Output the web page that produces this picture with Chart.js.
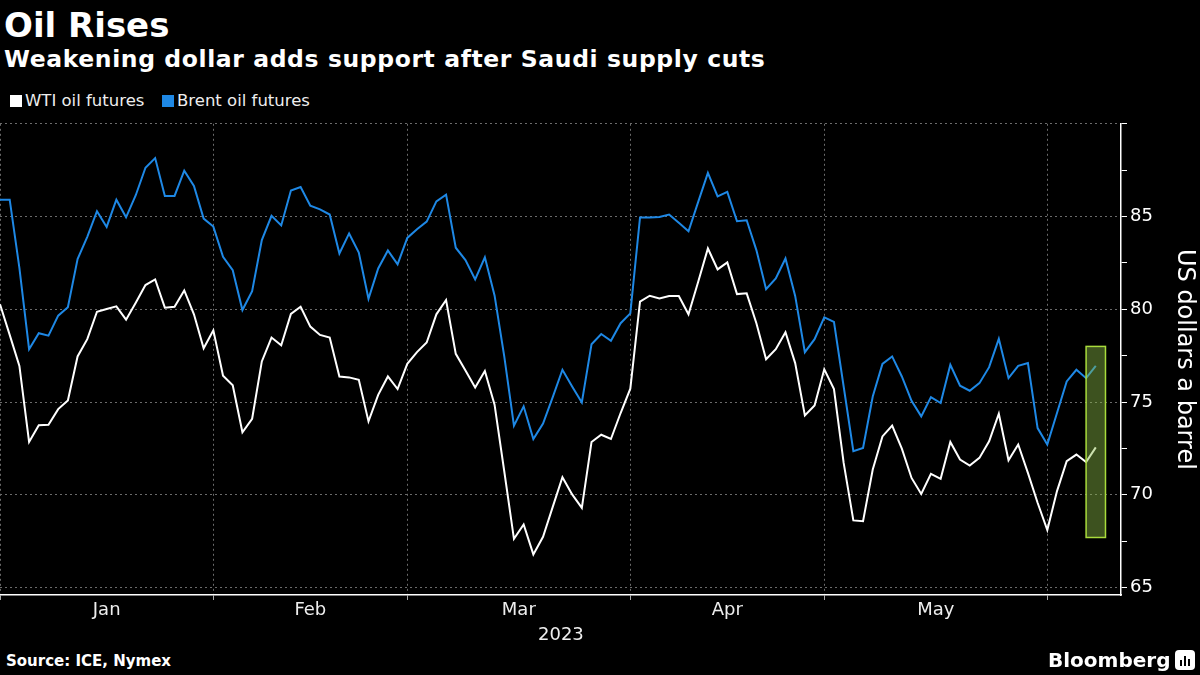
<!DOCTYPE html>
<html>
<head>
<meta charset="utf-8">
<script src="https://cdn.jsdelivr.net/npm/chart.js@4/dist/chart.umd.min.js"></script>
<style>
  html, body { margin: 0; padding: 0; background: #000; }
  body { width: 1200px; height: 675px; position: relative; overflow: hidden; font-family: "DejaVu Sans", sans-serif; color: #fff; }
  .abs { position: absolute; white-space: nowrap; line-height: 1; }
  #title { left: 4px; top: 8px; font-size: 34px; font-weight: bold; }
  #subtitle { left: 4px; top: 48px; font-size: 23.5px; font-weight: bold; letter-spacing: 0.6px; }
  .legend { top: 93px; font-size: 16.5px; color: #eee; }
  .swatch { display: inline-block; width: 12px; height: 12px; margin-right: 3px; vertical-align: -1px; }
  #year { left: 538px; top: 625px; font-size: 18px; color: #eee; }
  #source { left: 6px; top: 654px; font-size: 15px; font-weight: bold; }
  #brand { left: 1048px; top: 650px; font-size: 20px; font-weight: bold; }
  #brand .icon { display: inline-block; width: 20px; height: 20px; background: #fff; border-radius: 4px; margin-left: 5px; vertical-align: -3px; position: relative; }
  #brand .icon i { position: absolute; bottom: 4px; width: 2px; background: #000; }
  #wrap { position: absolute; left: 0; top: 110px; width: 1200px; height: 540px; }
</style>
</head>
<body>
<div class="abs" id="title">Oil Rises</div>
<div class="abs" id="subtitle">Weakening dollar adds support after Saudi supply cuts</div>
<div class="abs legend" style="left:10px"><span class="swatch" style="background:#fff"></span>WTI oil futures</div>
<div class="abs legend" style="left:162px"><span class="swatch" style="background:#1e88e5"></span>Brent oil futures</div>
<div id="wrap"><canvas id="chart"></canvas></div>
<div class="abs" id="year">2023</div>
<div class="abs" id="source">Source: ICE, Nymex</div>
<div class="abs" id="brand">Bloomberg<span class="icon"><i style="left:5px;height:6px"></i><i style="left:9px;height:10px"></i><i style="left:13px;height:7px"></i></span></div>
<script>
// trading-day series, Jan 2023 to early Jun 2023
const wti = [80.27, 78.62, 76.95, 72.85, 73.75, 73.78, 74.62, 75.09, 77.46, 78.39,
  79.87, 80.02, 80.16, 79.44, 80.36, 81.31, 81.61, 80.09, 80.14, 81.02,
  79.73, 77.90, 78.87, 76.42, 75.91, 73.37, 74.10, 77.19, 78.48, 78.06,
  79.75, 80.14, 79.07, 78.62, 78.48, 76.38, 76.33, 76.20, 73.96, 75.39,
  76.38, 75.70, 77.06, 77.69, 78.21, 79.73, 80.50, 77.60, 76.70, 75.79,
  76.68, 74.86, 71.27, 67.63, 68.40, 66.79, 67.74, 69.35, 70.95, 70.02,
  69.30, 72.85, 73.24, 73.01, 74.41, 75.72, 80.41, 80.73, 80.59, 80.72,
  80.72, 79.73, 81.49, 83.28, 82.15, 82.53, 80.82, 80.86, 79.25, 77.31,
  77.85, 78.76, 77.10, 74.28, 74.82, 76.77, 75.70, 71.72, 68.62, 68.58,
  71.36, 73.15, 73.73, 72.49, 70.91, 70.05, 71.13, 70.86, 72.85, 71.90,
  71.58, 71.99, 72.89, 74.37, 71.86, 72.71, 71.18, 69.57, 68.10, 70.20,
  71.81, 72.17, 71.77, 72.56];

const brent = [85.91, 85.91, 82.24, 77.85, 78.71, 78.58, 79.66, 80.11, 82.71, 83.91,
  85.29, 84.44, 85.91, 84.96, 86.15, 87.63, 88.15, 86.11, 86.11, 87.47,
  86.65, 84.89, 84.46, 82.83, 82.11, 79.96, 80.98, 83.73, 85.04, 84.52,
  86.40, 86.59, 85.59, 85.39, 85.11, 83.01, 84.09, 83.06, 80.57, 82.20,
  83.17, 82.42, 83.85, 84.32, 84.73, 85.82, 86.18, 83.32, 82.65, 81.61,
  82.80, 80.75, 77.46, 73.73, 74.77, 73.01, 73.84, 75.27, 76.74, 75.84,
  74.98, 78.12, 78.67, 78.30, 79.25, 79.78, 84.95, 84.95, 84.98, 85.11,
  84.66, 84.21, 85.79, 87.35, 86.09, 86.33, 84.75, 84.80, 83.19, 81.08,
  81.67, 82.74, 80.72, 77.69, 78.39, 79.57, 79.32, 75.84, 72.35, 72.53,
  75.30, 77.06, 77.46, 76.38, 75.07, 74.23, 75.27, 74.95, 77.01, 75.88,
  75.61, 76.02, 76.88, 78.41, 76.29, 76.95, 77.10, 73.60, 72.71, 74.41,
  76.11, 76.74, 76.29, 76.95];

const monthNames = ['Jan', 'Feb', 'Mar', 'Apr', 'May'];
const monthStarts = [0, 22, 42, 65, 85, 108];   // index of first trading day in each month
const yTicks = [65, 67.5, 70, 72.5, 75, 77.5, 80, 82.5, 85, 87.5, 90];

// highlighted last session
const hlFrom = 112, hlTo = 114, hlLow = 67.7, hlHigh = 78;

const GRID = '#6b6b6b';
const NONE = 'rgba(0,0,0,0)';

// month labels sit halfway between month boundaries
const xTicks = [];
const xLabels = {};
monthStarts.forEach((s, i) => {
    xTicks.push(s);
    if (i < monthNames.length) {
        const mid = (s + monthStarts[i + 1]) / 2;
        xTicks.push(mid);
        xLabels[mid] = monthNames[i];
    }
});
const isBoundary = v => monthStarts.indexOf(v) !== -1;

const highlightBox = {
    id: 'highlightBox',
    afterDatasetsDraw(chart) {
        const xs = chart.scales.x, ys = chart.scales.y, ctx = chart.ctx;
        const x0 = xs.getPixelForValue(hlFrom), x1 = xs.getPixelForValue(hlTo);
        const y0 = ys.getPixelForValue(hlHigh), y1 = ys.getPixelForValue(hlLow);
        ctx.save();
        ctx.fillStyle = 'rgba(140,186,70,0.44)';
        ctx.fillRect(x0, y0, x1 - x0, y1 - y0);
        ctx.strokeStyle = '#a9dc3c';
        ctx.lineWidth = 1.5;
        ctx.strokeRect(x0, y0, x1 - x0, y1 - y0);
        ctx.restore();
    }
};

new Chart(document.getElementById('chart'), {
    type: 'line',
    data: {
        datasets: [
            { label: 'WTI oil futures', data: wti.map((v, i) => ({ x: i, y: v })), borderColor: '#ffffff', borderWidth: 2, pointRadius: 0, tension: 0 },
            { label: 'Brent oil futures', data: brent.map((v, i) => ({ x: i, y: v })), borderColor: '#1e88e5', borderWidth: 2, pointRadius: 0, tension: 0 }
        ]
    },
    options: {
        responsive: true,
        maintainAspectRatio: false,
        animation: false,
        layout: { padding: 0 },
        plugins: { legend: { display: false }, tooltip: { enabled: false } },
        scales: {
            x: {
                type: 'linear',
                min: 0,
                max: 115.6,
                afterBuildTicks: s => { s.ticks = xTicks.map(v => ({ value: v })); },
                afterFit: s => { s.height = 55; },
                ticks: {
                    autoSkip: false,
                    maxRotation: 0,
                    padding: 0,
                    color: '#eee',
                    font: { family: 'DejaVu Sans', size: 18 },
                    callback: v => xLabels[v] || ''
                },
                grid: {
                    color: ctx => (ctx.tick && isBoundary(ctx.tick.value)) ? GRID : NONE,
                    tickColor: ctx => (ctx.tick && isBoundary(ctx.tick.value)) ? '#aaa' : NONE,
                    tickLength: 5,
                    lineWidth: 1
                },
                border: { display: true, color: '#ffffff', width: 1.5, dash: [2, 3] }
            },
            y: {
                position: 'right',
                min: 64.6,
                max: 90,
                afterBuildTicks: s => { s.ticks = yTicks.map(v => ({ value: v })); },
                afterFit: s => { s.width = 79; },
                ticks: {
                    padding: 3,
                    color: '#fff',
                    font: { family: 'DejaVu Sans', size: 18 },
                    callback: v => (v % 5 === 0 && v < 90) ? String(v) : ''
                },
                grid: {
                    color: ctx => (ctx.tick && ctx.tick.value % 5 === 0) ? GRID : NONE,
                    tickColor: '#ffffff',
                    tickLength: 6
                },
                border: { display: true, color: '#ffffff', width: 1.5, dash: [2, 3] },
                title: {
                    display: true,
                    text: 'US dollars a barrel',
                    color: '#fff',
                    font: { family: 'DejaVu Sans', size: 24 },
                    padding: { top: 1, bottom: 1 }
                }
            }
        }
    },
    plugins: [highlightBox]
});
</script>
</body>
</html>
